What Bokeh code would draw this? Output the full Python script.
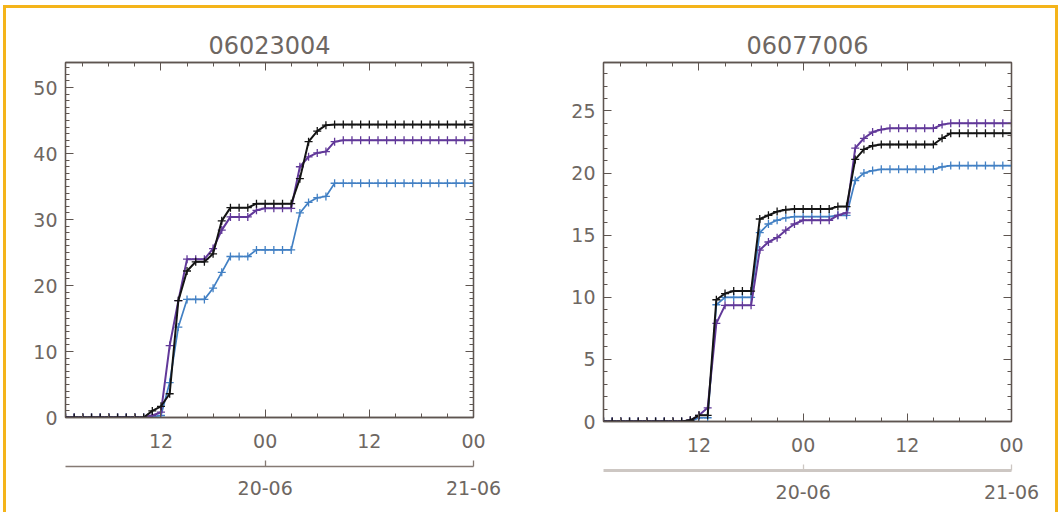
from bokeh.plotting import figure
from bokeh.models import LinearAxis, FixedTicker, Range1d
from bokeh.layouts import row, column
from bokeh.embed import file_html
from bokeh.resources import INLINE

hours = list(range(1, 49))

# Station 06023004
st1_title = "06023004"
st1_black = [0, 0, 0, 0, 0, 0, 0, 0, 0, 0,
             1.0, 1.7, 3.6, 17.7, 22.2, 23.6, 23.6, 24.8, 29.8, 31.8,
             31.8, 31.8, 32.4, 32.4, 32.4, 32.4, 32.4, 36.2, 41.8, 43.4,
             44.3, 44.4, 44.4, 44.4, 44.4, 44.4, 44.4, 44.4, 44.4, 44.4,
             44.4, 44.4, 44.4, 44.4, 44.4, 44.4, 44.4, 44.4]
st1_purple = [0, 0, 0, 0, 0, 0, 0, 0, 0, 0,
              0.3, 0.8, 10.9, 17.7, 24.0, 24.0, 24.0, 25.6, 28.4, 30.4,
              30.4, 30.4, 31.4, 31.7, 31.7, 31.7, 31.7, 38.0, 39.5, 40.1,
              40.3, 41.8, 42.0, 42.0, 42.0, 42.0, 42.0, 42.0, 42.0, 42.0,
              42.0, 42.0, 42.0, 42.0, 42.0, 42.0, 42.0, 42.0]
st1_blue = [0, 0, 0, 0, 0, 0, 0, 0, 0, 0,
            0.1, 0.3, 5.3, 13.7, 17.9, 17.9, 17.9, 19.6, 22.0, 24.4,
            24.4, 24.4, 25.4, 25.4, 25.4, 25.4, 25.4, 31.0, 32.6, 33.3,
            33.5, 35.5, 35.5, 35.5, 35.5, 35.5, 35.5, 35.5, 35.5, 35.5,
            35.5, 35.5, 35.5, 35.5, 35.5, 35.5, 35.5, 35.5]

# Station 06077006
st2_title = "06077006"
st2_black = [0, 0, 0, 0, 0, 0, 0, 0, 0, 0,
             0.1, 0.5, 0.5, 9.8, 10.3, 10.5, 10.5, 10.5, 16.3, 16.6,
             16.9, 17.05, 17.1, 17.1, 17.1, 17.1, 17.1, 17.3, 17.3, 21.1,
             21.9, 22.2, 22.3, 22.3, 22.3, 22.3, 22.3, 22.3, 22.3, 22.8,
             23.2, 23.2, 23.2, 23.2, 23.2, 23.2, 23.2, 23.2]
st2_purple = [0, 0, 0, 0, 0, 0, 0, 0, 0, 0,
              0.1, 0.5, 1.1, 7.9, 9.35, 9.35, 9.35, 9.35, 13.8, 14.45,
              14.8, 15.4, 15.9, 16.2, 16.2, 16.2, 16.2, 16.6, 16.8, 22.0,
              22.8, 23.3, 23.5, 23.6, 23.6, 23.6, 23.6, 23.6, 23.6, 23.9,
              24.0, 24.0, 24.0, 24.0, 24.0, 24.0, 24.0, 24.0]
st2_blue = [0, 0, 0, 0, 0, 0, 0, 0, 0, 0,
            0.0, 0.3, 0.3, 9.4, 10.0, 10.0, 10.0, 10.0, 15.2, 15.9,
            16.2, 16.4, 16.5, 16.5, 16.5, 16.5, 16.5, 16.6, 16.6, 19.4,
            20.0, 20.2, 20.3, 20.3, 20.3, 20.3, 20.3, 20.3, 20.3, 20.5,
            20.6, 20.6, 20.6, 20.6, 20.6, 20.6, 20.6, 20.6]

hour_major = [12, 24, 36, 48]
hour_labels = {12: "12", 24: "00", 36: "12", 48: "00"}
hour_minor = list(range(3, 49, 3))
day_ticks = [24, 48]
day_labels = {24: "20-06", 48: "21-06"}

FONT = "DejaVu Sans"
TXT = "#6e6762"
FRAME = "#5e5550"
COL_BLACK = "#141414"
COL_PURPLE = "#613899"
COL_BLUE = "#4280c4"


def style_ticks(ax):
    ax.axis_line_color = FRAME
    ax.axis_line_width = 1.3
    ax.major_tick_in = 8
    ax.major_tick_out = 0
    ax.minor_tick_in = 4
    ax.minor_tick_out = 0
    ax.major_tick_line_color = FRAME
    ax.minor_tick_line_color = FRAME


def make_panel(title, black, purple, blue, ymax, yticks, width, mbl, mbr, mbb, sec_color, sec_width):
    p = figure(width=width, height=504, x_range=Range1d(1, 48), y_range=Range1d(0, ymax),
               output_backend="svg", toolbar_location=None,
               min_border_left=mbl, min_border_right=mbr, min_border_top=54, min_border_bottom=mbb)
    p.grid.visible = False
    p.outline_line_color = FRAME
    p.outline_line_width = 1.3
    p.background_fill_color = "white"
    p.border_fill_color = "white"

    p.title.text = title
    p.title.align = "center"
    p.title.text_font = FONT
    p.title.text_font_size = "24px"
    p.title.text_font_style = "normal"
    p.title.text_color = TXT
    p.title.standoff = 17

    yminor = list(range(0, int(ymax) + 1))

    xa = p.xaxis[0]
    xa.ticker = FixedTicker(ticks=hour_major, minor_ticks=hour_minor)
    xa.major_label_overrides = hour_labels
    style_ticks(xa)
    xa.major_label_text_font = FONT
    xa.major_label_text_font_size = "19px"
    xa.major_label_text_color = TXT
    xa.major_label_standoff = 16

    ya = p.yaxis[0]
    ya.ticker = FixedTicker(ticks=yticks, minor_ticks=yminor)
    style_ticks(ya)
    ya.major_label_text_font = FONT
    ya.major_label_text_font_size = "19px"
    ya.major_label_text_color = TXT
    ya.major_label_standoff = 8

    # mirrored axes (top / right): ticks only, labels not drawn
    top = LinearAxis(ticker=FixedTicker(ticks=hour_major, minor_ticks=hour_minor))
    right = LinearAxis(ticker=FixedTicker(ticks=yticks, minor_ticks=yminor))
    for ax in [top, right]:
        style_ticks(ax)
        ax.major_label_text_color = None
        ax.major_label_text_font_size = "1px"
        ax.major_label_standoff = 0
    p.add_layout(top, "above")
    p.add_layout(right, "right")

    # invisible spacer between the hour axis and the date axis
    spacer = LinearAxis(ticker=FixedTicker(ticks=[24], minor_ticks=[]))
    spacer.axis_line_color = None
    spacer.major_tick_out = 16
    spacer.major_tick_in = 0
    spacer.minor_tick_out = 0
    spacer.major_tick_line_color = None
    spacer.minor_tick_line_color = None
    spacer.major_label_text_color = None
    spacer.major_label_text_font_size = "1px"
    spacer.major_label_standoff = 0
    p.add_layout(spacer, "below")

    day = LinearAxis(ticker=FixedTicker(ticks=day_ticks, minor_ticks=[]))
    day.major_label_overrides = day_labels
    day.axis_line_color = sec_color
    day.axis_line_width = sec_width
    day.major_tick_in = 6
    day.major_tick_out = 0
    day.major_tick_line_color = sec_color
    day.major_tick_line_width = 1.3
    day.minor_tick_in = 0
    day.minor_tick_out = 0
    day.major_label_text_font = FONT
    day.major_label_text_font_size = "19px"
    day.major_label_text_color = TXT
    day.major_label_standoff = 14
    p.add_layout(day, "below")

    for ys, c, lw in [(blue, COL_BLUE, 1.7), (purple, COL_PURPLE, 2.0), (black, COL_BLACK, 2.0)]:
        p.line(hours, ys, line_color=c, line_width=lw)
        p.scatter(hours, ys, marker="cross", size=8, line_color=c, line_width=1.3)
    return p


p1 = make_panel(st1_title, st1_black, st1_purple, st1_blue, 53.8, [0, 10, 20, 30, 40, 50],
                535, 59, 68, 95, "#857a74", 1.5)
p2 = make_panel(st2_title, st2_black, st2_purple, st2_blue, 28.9, [0, 5, 10, 15, 20, 25],
                514, 62, 44, 91, "#cdc7c3", 3)

layout = row(p1, column(p2), margin=(5, 0, 0, 3),
             styles={"border-left": "3px solid #F4B41A",
                     "border-top": "3px solid #F4B41A",
                     "border-right": "3px solid #F4B41A",
                     "background-color": "white"})

open("out.html", "w").write(file_html(layout, INLINE))
